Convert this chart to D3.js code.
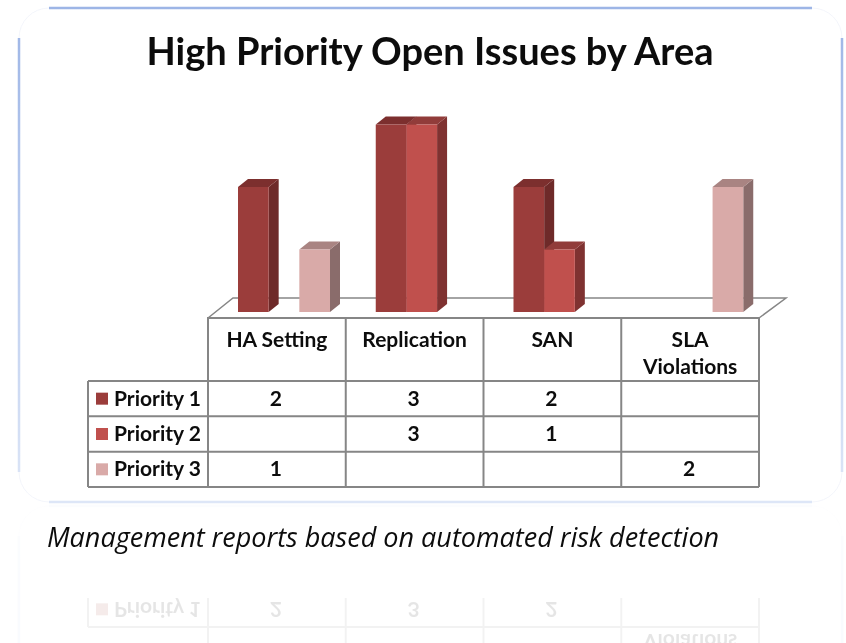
<!DOCTYPE html>
<html>
<head>
<meta charset="utf-8">
<script src="https://cdn.jsdelivr.net/npm/d3@7"></script>
<style>
  html, body { margin: 0; padding: 0; background: #fff; }
  svg { display: block; filter: blur(0.4px); }
  text { font-family: Lato, sans-serif; font-weight: 700; fill: #0c0c0c; }
</style>
</head>
<body>
<div id="general"></div>
<script>
const w = 846, h = 643;

const title = "High Priority Open Issues by Area";
const caption = "Management reports based on automated risk detection";
const categories = ["HA Setting", "Replication", "SAN", "SLA Violations"];
const categoryLines = [["HA Setting"], ["Replication"], ["SAN"], ["SLA", "Violations"]];
const series = ["Priority 1", "Priority 2", "Priority 3"];
const priority1 = [2, 3, 2, null];
const priority2 = [null, 3, 1, null];
const priority3 = [1, null, null, 2];
const seriesValues = [priority1, priority2, priority3];
const frontColors = ["#9b3d3b", "#c0504d", "#d9aaa8"];
const sideColors = ["#6e2a29", "#7f3231", "#8a6c6b"];
const topColors = ["#7c2f2e", "#913c3a", "#a98482"];

const m = { legendLeft: 88, l: 208, r: 759, headTop: 318, headBottom: 381, bottom: 487 };
const frame = { l: 19, r: 842, t: 8, b: 502, corner: 30 };
const depth = { x: 10, y: 8 };
const floorBack = { x: 25, y: 20 };
const fontSize = 21;

const x = d3.scaleBand().domain(categories).range([m.l, m.r]);
const xInner = d3.scaleBand().domain(series).range([30, 122]);
const y = d3.scaleLinear().domain([0, 3]).range([312, 124.5]);
const rowY = d3.scaleBand().domain(series).range([m.headBottom, m.bottom]);

const svg = d3.select("#general").append("svg").attr("width", w).attr("height", h).attr("viewBox", `0 0 ${w} ${h}`);
const defs = svg.append("defs");

const edge = defs.append("linearGradient").attr("id", "edge")
  .attr("gradientUnits", "userSpaceOnUse")
  .attr("x1", 0).attr("x2", 0).attr("y1", frame.t).attr("y2", frame.b);
edge.append("stop").attr("offset", "0%").attr("stop-color", "#9db5e6");
edge.append("stop").attr("offset", "100%").attr("stop-color", "#dde6f7");

defs.append("clipPath").attr("id", "reflectClip")
  .append("rect").attr("x", 0).attr("y", 598).attr("width", w).attr("height", h - 598);

function drawFrame(g) {
  g.append("rect")
    .attr("x", frame.l).attr("y", frame.t)
    .attr("width", frame.r - frame.l).attr("height", frame.b - frame.t)
    .attr("rx", frame.corner).attr("ry", frame.corner)
    .attr("fill", "#fff").attr("stroke", "#f3f5fb");
  const edges = [
    [frame.l + frame.corner, frame.t, frame.r - frame.corner, frame.t],
    [frame.l + frame.corner, frame.b, frame.r - frame.corner, frame.b],
    [frame.l, frame.t + frame.corner, frame.l, frame.b - frame.corner],
    [frame.r, frame.t + frame.corner, frame.r, frame.b - frame.corner]
  ];
  g.selectAll(".edge").data(edges).join("line").attr("class", "edge")
    .attr("x1", d => d[0]).attr("y1", d => d[1]).attr("x2", d => d[2]).attr("y2", d => d[3])
    .attr("stroke", "url(#edge)").attr("stroke-width", 2.5);
}

function drawGrid(g, rows) {
  const grid = g.append("g").attr("stroke", "#868686").attr("stroke-width", 2).attr("fill", "none");
  grid.append("path").attr("d", d3.line()([
    [m.l, m.bottom], [m.l, m.headTop], [m.r, m.headTop], [m.r, m.headBottom]
  ]));
  grid.append("path").attr("stroke-width", 1.5).attr("d", d3.line()([
    [m.l, m.headTop], [m.l + floorBack.x, m.headTop - floorBack.y],
    [m.r + floorBack.x + 2, m.headTop - floorBack.y], [m.r, m.headTop]
  ]));
  grid.selectAll(".col").data(categories.slice(1)).join("line").attr("class", "col")
    .attr("x1", d => x(d)).attr("x2", d => x(d)).attr("y1", m.headTop).attr("y2", m.bottom);
  grid.selectAll(".row").data(series).join("line").attr("class", "row")
    .attr("x1", m.legendLeft).attr("x2", m.r).attr("y1", d => rowY(d)).attr("y2", d => rowY(d));
  grid.append("line").attr("x1", m.legendLeft).attr("x2", m.r).attr("y1", m.bottom).attr("y2", m.bottom);
  grid.append("line").attr("x1", m.legendLeft).attr("x2", m.legendLeft).attr("y1", m.headBottom).attr("y2", m.bottom);
  grid.append("line").attr("x1", m.r).attr("x2", m.r).attr("y1", m.headBottom).attr("y2", m.bottom);

  g.selectAll(".swatch").data(rows).join("rect").attr("class", "swatch")
    .attr("x", 96).attr("y", d => rowY(d) + rowY.bandwidth() / 2 - 6)
    .attr("width", 12).attr("height", 12)
    .attr("fill", d => frontColors[series.indexOf(d)]);

  g.selectAll(".rowLabel").data(rows).join("text").attr("class", "rowLabel")
    .attr("x", 114).attr("y", d => rowY(d) + rowY.bandwidth() / 2 + 7)
    .attr("font-size", fontSize)
    .text(d => d);

  rows.forEach(name => {
    const values = seriesValues[series.indexOf(name)];
    g.selectAll(null).data(values.map((v, c) => ({ v, c })).filter(d => d.v !== null)).join("text")
      .attr("x", d => x(categories[d.c]) + x.bandwidth() / 2 - 1)
      .attr("y", rowY(name) + rowY.bandwidth() / 2 + 7)
      .attr("text-anchor", "middle")
      .attr("font-size", fontSize)
      .text(d => d.v);
  });
}

function drawHeader(g, lineFilter) {
  categoryLines.forEach((lines, c) => {
    const shown = lines.map((t, i) => ({ t, i })).filter(lineFilter);
    g.selectAll(null).data(shown).join("text")
      .attr("x", x(categories[c]) + x.bandwidth() / 2)
      .attr("y", d => 347 + d.i * 27)
      .attr("text-anchor", "middle")
      .attr("font-size", fontSize)
      .text(d => d.t);
  });
}

function drawBars(g) {
  seriesValues.forEach((values, s) => {
    const bars = values.map((v, c) => ({ v, c })).filter(d => d.v !== null);
    const x0 = d => x(categories[d.c]) + xInner(series[s]);
    const x1 = d => x0(d) + xInner.bandwidth();
    const group = g.append("g");

    group.selectAll(".side").data(bars).join("polygon").attr("class", "side")
      .attr("fill", sideColors[s])
      .attr("points", d => [
        [x1(d), y(d.v)], [x1(d) + depth.x, y(d.v) - depth.y],
        [x1(d) + depth.x, y(0) - depth.y], [x1(d), y(0)]
      ].join(" "));
    group.selectAll(".top").data(bars).join("polygon").attr("class", "top")
      .attr("fill", topColors[s])
      .attr("points", d => [
        [x0(d), y(d.v)], [x0(d) + depth.x, y(d.v) - depth.y],
        [x1(d) + depth.x, y(d.v) - depth.y], [x1(d), y(d.v)]
      ].join(" "));
    group.selectAll(".front").data(bars).join("rect").attr("class", "front")
      .attr("fill", frontColors[s])
      .attr("x", x0).attr("y", d => y(d.v))
      .attr("width", xInner.bandwidth()).attr("height", d => y(0) - y(d.v));
  });
}

// faint mirror image under the caption, only the first row and the last header line reach the page
const mirrorFlip = "translate(0,1008) scale(1,-1)";
const mirrorFrame = svg.append("g").attr("opacity", 0.12).attr("transform", mirrorFlip);
drawFrame(mirrorFrame);
const mirror = svg.append("g").attr("clip-path", "url(#reflectClip)").attr("opacity", 0.1)
  .append("g").attr("transform", mirrorFlip);
drawGrid(mirror, ["Priority 1"]);
drawHeader(mirror, d => d.i === 1);

drawFrame(svg.append("g"));
const table = svg.append("g");
drawGrid(table, series);
drawHeader(table, () => true);
drawBars(svg.append("g"));

svg.append("text")
  .attr("x", 430).attr("y", 64.5)
  .attr("text-anchor", "middle")
  .attr("font-size", 38)
  .text(title);

svg.append("text")
  .attr("x", 47).attr("y", 547)
  .attr("font-size", 27)
  .style("font-family", "'Open Sans', sans-serif")
  .style("font-style", "italic")
  .style("font-weight", 400)
  .text(caption);
</script>
</body>
</html>
